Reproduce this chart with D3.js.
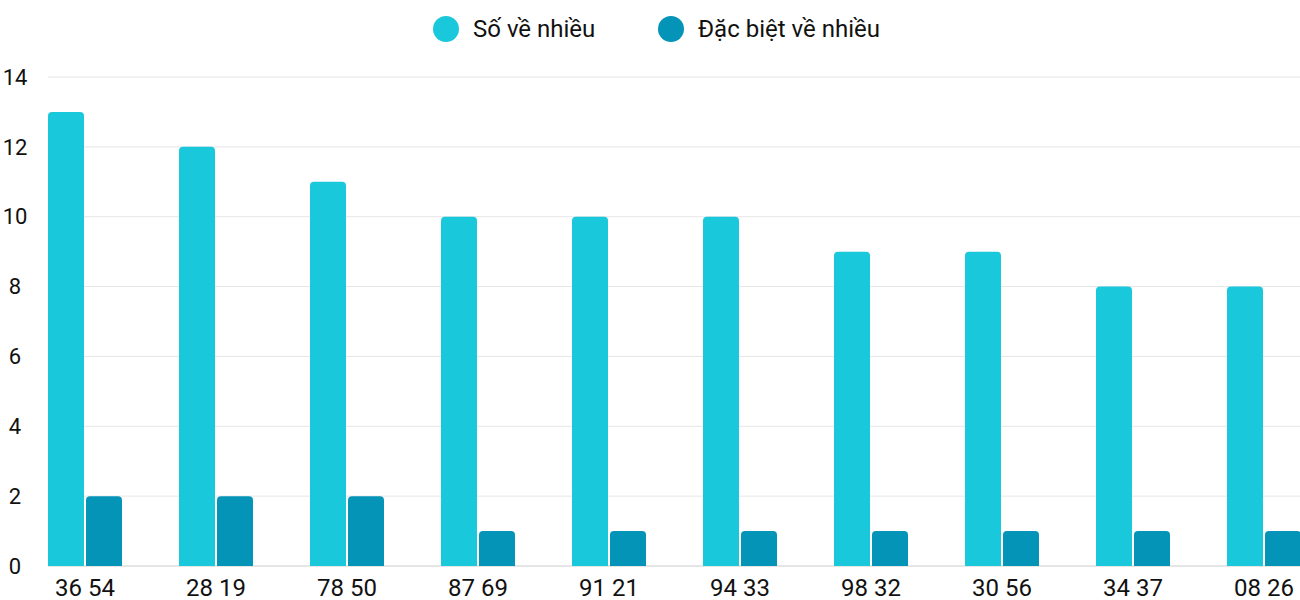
<!DOCTYPE html>
<html><head><meta charset="utf-8">
<script src="https://cdn.jsdelivr.net/npm/d3@7/dist/d3.min.js"></script>
<style>body{margin:0;background:#fff}svg{font-family:Roboto,sans-serif}</style>
</head><body><svg id="c" width="1300" height="600"></svg>
<script>
const categories = ["36 54","28 19","78 50","87 69","91 21","94 33","98 32","30 56","34 37","08 26"];
const soVeNhieu = [13,12,11,10,10,10,9,9,8,8];
const dacBiet = [2,2,2,1,1,1,1,1,1,1];
const yTicks = [0,2,4,6,8,10,12,14];
const seriesNames = ["Số về nhiều","Đặc biệt về nhiều"];
const colors = ["#1ac8db","#0494b8"];

const svg = d3.select("#c");
const x = d3.scaleBand().domain(categories).range([48, 1358]);
const y = d3.scaleLinear().domain([0,14]).range([566, 77]);
const bw = 36, gap = 2;

svg.append("g").selectAll("line").data(yTicks).join("line")
  .attr("x1",48).attr("x2",1300).attr("y1",d=>y(d)).attr("y2",d=>y(d))
  .attr("stroke",d=>d===0?"#ccc":"#e6e6e6").attr("stroke-width",1);
svg.append("g").selectAll("text").data(yTicks).join("text")
  .attr("x",15).attr("y",d=>y(d)).attr("dy","0.35em").attr("text-anchor","middle")
  .attr("font-size",22).attr("fill","#111").text(d=>d);

function bar(v,i,s){
  const x0 = x(categories[i]) + s*(bw+gap), y0=y(v), h=y(0)-y0, r=4;
  return `M${x0},${y0+h}V${y0+r}Q${x0},${y0} ${x0+r},${y0}H${x0+bw-r}Q${x0+bw},${y0} ${x0+bw},${y0+r}V${y0+h}Z`;
}
[soVeNhieu,dacBiet].forEach((arr,s)=>{
  svg.append("g").selectAll("path").data(arr).join("path")
    .attr("d",(v,i)=>bar(v,i,s)).attr("fill",colors[s]);
});
svg.append("g").selectAll("text").data(categories).join("text")
  .attr("x",d=>x(d)+bw+gap/2).attr("y",596).attr("text-anchor","middle")
  .attr("font-size",24).attr("fill","#111").text(d=>d);

const lg = [[446,473],[671,698]];
seriesNames.forEach((n,i)=>{
  svg.append("circle").attr("cx",lg[i][0]).attr("cy",29).attr("r",13).attr("fill",colors[i]);
  svg.append("text").attr("x",lg[i][1]).attr("y",29).attr("dy","0.35em")
    .attr("font-size",24).attr("fill","#111").text(n);
});
</script></body></html>
